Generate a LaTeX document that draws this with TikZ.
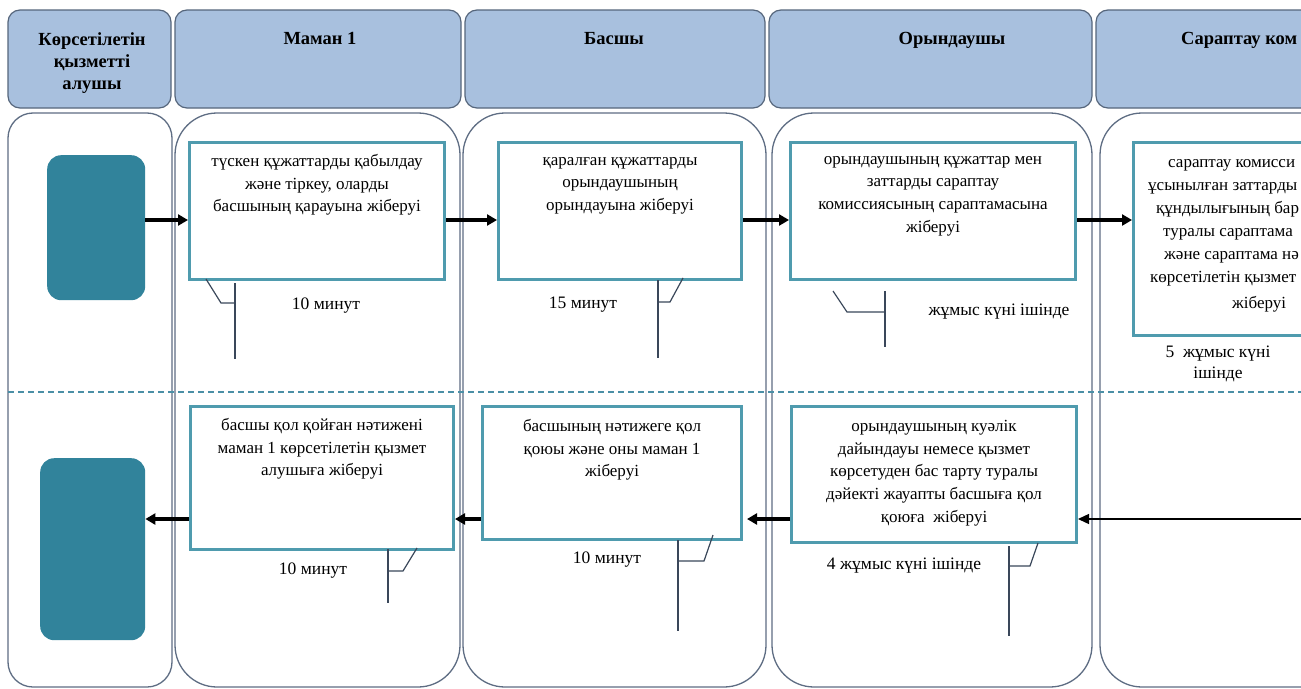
\documentclass[tikz,border=0pt]{standalone}
\usepackage{fontspec}
\setmainfont{Liberation Serif}
\usetikzlibrary{arrows.meta,calc}
\definecolor{hdrfill}{HTML}{A8C0DE}
\definecolor{hdrline}{HTML}{56667C}
\definecolor{laneline}{HTML}{5E6D83}
\definecolor{tealfill}{HTML}{31839B}
\definecolor{boxline}{HTML}{4F9BAE}
\definecolor{dashcol}{HTML}{4A8FA6}
\definecolor{callcol}{HTML}{3A475A}
\tikzset{
  hdr/.style={draw=hdrline, fill=hdrfill, line width=1.2pt, rounded corners=12pt},
  lanebox/.style={draw=laneline, line width=1.3pt},
  hdrtext/.style={font=\fontsize{18.5}{22}\selectfont\bfseries, align=center, anchor=north, inner sep=0pt},
  stepbox/.style={draw=boxline, line width=3pt, fill=white, rectangle, anchor=north west, inner sep=0pt},
  boxtext/.style={font=\fontsize{17}{22.7}\selectfont, align=center, anchor=north, inner sep=0pt},
  lbl/.style={font=\fontsize{17.5}{21}\selectfont, align=center, inner sep=0pt},
  linetext/.style={font=\fontsize{17}{22}\selectfont, anchor=base west, inner sep=0pt},
  term/.style={fill=tealfill, rounded corners=14pt, anchor=north west, inner sep=0pt, rectangle},
  thickarr/.style={line width=3.2pt, -{Triangle[length=10pt,width=11pt]}},
  thinarr/.style={line width=1.4pt, -{Triangle[length=11pt,width=10pt]}},
  callout/.style={draw=callcol, line width=1.2pt},
}
\begin{document}
\begin{tikzpicture}[x=1pt,y=-1pt]
\useasboundingbox (0,0) rectangle (1301,688);
\clip (0,0) rectangle (1301,688);
\fill[white] (0,0) rectangle (1301,688);
% headers
\draw[hdr] (8,10) rectangle (171,108);
\draw[hdr] (175,10) rectangle (461,108);
\draw[hdr] (465,10) rectangle (765,108);
\draw[hdr] (769,10) rectangle (1092,108);
\draw[hdr] (1096,10) rectangle (1420,108);
\node[hdrtext] (h1) at (92,32) {Көрсетілетін\\қызметті\\алушы};
\node[hdrtext] (h2) at (320,32) {Маман 1};
\node[hdrtext] (h3) at (614,32) {Басшы};
\node[hdrtext] (h4) at (952,32) {Орындаушы};
\node[font=\fontsize{18.5}{22}\selectfont\bfseries, anchor=north west, inner sep=0pt] (h5) at (1181,32) {Сараптау ком};
% lanes
\draw[lanebox, rounded corners=25pt] (8,113) rectangle (172,687);
\draw[lanebox, rounded corners=42pt] (175,113) rectangle (460,687);
\draw[lanebox, rounded corners=42pt] (463,113) rectangle (766,687);
\draw[lanebox, rounded corners=42pt] (772,113) rectangle (1092,687);
\draw[lanebox, rounded corners=42pt] (1100,113) rectangle (1440,687);
% dashed divider
\coordinate (dl) at (8,392);
\coordinate (dr) at (1301,392);
\draw[dashcol, line width=1.2pt, dash pattern=on 6pt off 4pt] (dl) -- (dr);
% row coordinates
\coordinate (r1) at (0,220);
\coordinate (r2) at (0,519);
% terminals
\node[term, minimum width=98pt, minimum height=145pt] (tA) at (47,155) {};
\node[term, minimum width=105pt, minimum height=182pt] (tB) at (40,458) {};
% top row boxes
\node[stepbox, minimum width=255pt, minimum height=137pt] (b1) at (188,141) {};
\node[stepbox, minimum width=243pt, minimum height=137pt] (b2) at (497,141) {};
\node[stepbox, minimum width=285pt, minimum height=137pt] (b3) at (789,141) {};
\node[stepbox, minimum width=280pt, minimum height=193pt] (b4) at (1132,141) {};
% bottom row boxes
\node[stepbox, minimum width=263pt, minimum height=143pt] (b5) at (189,405) {};
\node[stepbox, minimum width=259pt, minimum height=133pt] (b6) at (481,405) {};
\node[stepbox, minimum width=285pt, minimum height=136pt] (b7) at (790,405) {};
% box texts
\node[boxtext] (t1) at ($(b1.north)+(0,13)$) {түскен құжаттарды қабылдау\\және тіркеу, оларды\\басшының қарауына жіберуі};
\node[boxtext] (t2) at ($(b2.north)+(0,16)$) {қаралған құжаттарды\\орындаушының\\орындауына жіберуі};
\node[boxtext] (t3) at ($(b3.north)+(0,15)$) {орындаушының құжаттар мен\\заттарды сараптау\\комиссиясының сараптамасына\\жіберуі};
\node[linetext] (t4a) at (1168,167) {сараптау комисси};
\node[linetext] (t4b) at (1148,190) {ұсынылған заттарды};
\node[linetext] (t4c) at (1156,213) {құндылығының бар};
\node[linetext] (t4d) at (1163,236) {туралы сараптама};
\node[linetext] (t4e) at (1164,259) {және сараптама нә};
\node[linetext] (t4f) at (1150,282) {көрсетілетін қызмет};
\node[linetext] (t4g) at (1232,308) {жіберуі};
\node[boxtext] (t5) at ($(b5.north)+(0,13)$) {басшы қол қойған нәтижені\\маман 1 көрсетілетін қызмет\\алушыға жіберуі};
\node[boxtext] (t6) at ($(b6.north)+(0,14)$) {басшының нәтижеге қол\\қоюы және оны маман 1\\жіберуі};
\node[boxtext] (t7) at ($(b7.north)+(0,15)$) {орындаушының куәлік\\дайындауы немесе қызмет\\көрсетуден бас тарту туралы\\дәйекті жауапты басшыға қол\\қоюға\ \ жіберуі};
% arrows top row
\draw[thickarr] (tA.east |- r1) -- (b1.west |- r1);
\draw[thickarr] (b1.east |- r1) -- (b2.west |- r1);
\draw[thickarr] (b2.east |- r1) -- (b3.west |- r1);
\draw[thickarr] (b3.east |- r1) -- (b4.west |- r1);
% arrows bottom row
\coordinate (inR) at (1301,519);
\draw[thinarr] (inR) -- (b7.east |- r2);
\draw[thickarr] (b7.west |- r2) -- ($(b6.east |- r2)+(4,0)$);
\draw[thickarr] (b6.west |- r2) -- (b5.east |- r2);
\draw[thickarr] (b5.west |- r2) -- (tB.east |- r2);
% callouts and labels
\coordinate (c1a) at (206,279); \coordinate (c1b) at (221,303); \coordinate (c1c) at (235,303);
\coordinate (c1t) at (235,283); \coordinate (c1u) at (235,359);
\draw[callout] (c1a) -- (c1b) -- (c1c); \draw[callout] (c1t) -- (c1u);
\node[lbl] (l1) at (326,306) {10 минут};
\coordinate (c2a) at (683,278); \coordinate (c2b) at (670,302); \coordinate (c2c) at (658,302);
\coordinate (c2t) at (658,280); \coordinate (c2u) at (658,358);
\draw[callout] (c2a) -- (c2b) -- (c2c); \draw[callout] (c2t) -- (c2u);
\node[lbl] (l2) at (583,305) {15 минут};
\coordinate (c3a) at (833,291); \coordinate (c3b) at (847,312); \coordinate (c3c) at (885,312);
\coordinate (c3t) at (885,291); \coordinate (c3u) at (885,347);
\draw[callout] (c3a) -- (c3b) -- (c3c); \draw[callout] (c3t) -- (c3u);
\node[lbl] (l3) at (999,312) {жұмыс күні ішінде};
\node[lbl] (l4) at (1218,364) {5\ \ жұмыс күні\\ішінде};
\coordinate (c5a) at (417,548); \coordinate (c5b) at (403,571); \coordinate (c5c) at (388,571);
\coordinate (c5t) at (388,549); \coordinate (c5u) at (388,603);
\draw[callout] (c5a) -- (c5b) -- (c5c); \draw[callout] (c5t) -- (c5u);
\node[lbl] (l5) at (313,571) {10 минут};
\coordinate (c6a) at (713,535); \coordinate (c6b) at (704,561); \coordinate (c6c) at (678,561);
\coordinate (c6t) at (678,540); \coordinate (c6u) at (678,631);
\draw[callout] (c6a) -- (c6b) -- (c6c); \draw[callout] (c6t) -- (c6u);
\node[lbl] (l6) at (607,560) {10 минут};
\coordinate (c7a) at (1038,543); \coordinate (c7b) at (1030,566); \coordinate (c7c) at (1009,566);
\coordinate (c7t) at (1009,546); \coordinate (c7u) at (1009,636);
\draw[callout] (c7a) -- (c7b) -- (c7c); \draw[callout] (c7t) -- (c7u);
\node[lbl] (l7) at (904,566) {4 жұмыс күні ішінде};
\end{tikzpicture}
\end{document}
